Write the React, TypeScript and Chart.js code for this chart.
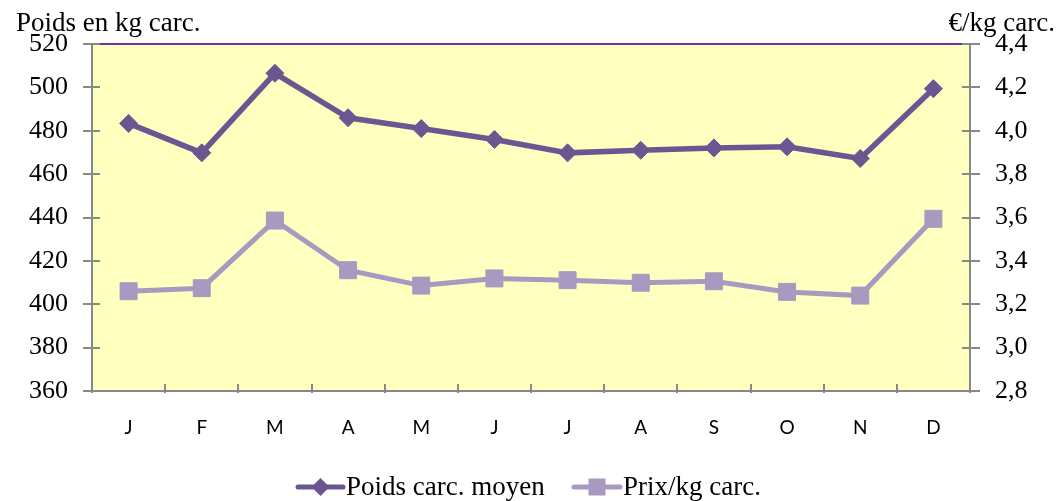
import React, { useEffect, useRef } from "react";
import { Chart, registerables } from "chart.js";

Chart.register(...registerables);

const months = ["J", "F", "M", "A", "M", "J", "J", "A", "S", "O", "N", "D"];
const poids = [483.4, 469.8, 506.5, 486, 481, 476, 469.8, 471, 472.1, 472.6, 467.2, 499.4];
const prix = [3.26, 3.274, 3.586, 3.357, 3.286, 3.319, 3.311, 3.299, 3.306, 3.257, 3.24, 3.594];
const leftTitle = "Poids en kg carc.";
const rightTitle = "€/kg carc.";
const poidsLabel = "Poids carc. moyen";
const prixLabel = "Prix/kg carc.";

const POIDS_COLOR = "#6B5691";
const PRIX_COLOR = "#A899C0";
const AXIS_COLOR = "#888888";
const SERIF = "'Liberation Serif', 'Times New Roman', serif";

const decor = {
  id: "decor",
  beforeDraw(chart: any) {
    const { ctx, chartArea } = chart;
    const { left, top, right, bottom } = chartArea;
    ctx.save();
    ctx.fillStyle = "#FFFFC0";
    ctx.fillRect(left, top, right - left, bottom - top);
    ctx.restore();
  },
  afterDraw(chart: any) {
    const { ctx, chartArea } = chart;
    const { left, top, right, bottom } = chartArea;
    ctx.save();
    ctx.strokeStyle = "#7030A0";
    ctx.lineWidth = 2;
    ctx.beginPath();
    ctx.moveTo(left, top);
    ctx.lineTo(right, top);
    ctx.stroke();
    ctx.strokeStyle = AXIS_COLOR;
    ctx.lineWidth = 2;
    const yl = chart.scales.y;
    yl.ticks.forEach((t: any) => {
      const py = Math.round(yl.getPixelForValue(t.value));
      ctx.beginPath();
      ctx.moveTo(left - 9, py);
      ctx.lineTo(left + 8, py);
      ctx.stroke();
    });
    const yr = chart.scales.y1;
    yr.ticks.forEach((t: any) => {
      const py = Math.round(yr.getPixelForValue(t.value));
      ctx.beginPath();
      ctx.moveTo(right - 8, py);
      ctx.lineTo(right + 10, py);
      ctx.stroke();
    });
    const n = months.length;
    for (let i = 0; i <= n; i++) {
      const px = Math.round(left + ((right - left) * i) / n);
      ctx.beginPath();
      ctx.moveTo(px, bottom - 7);
      ctx.lineTo(px, bottom + 2);
      ctx.stroke();
    }
    ctx.fillStyle = "#000";
    ctx.font = `27px ${SERIF}`;
    ctx.textBaseline = "alphabetic";
    ctx.textAlign = "left";
    ctx.fillText(leftTitle, 16, 31);
    ctx.textAlign = "right";
    ctx.fillText(rightTitle, 1055, 31);
    const ly = 487;
    const drawEntry = (x1: number, x2: number, color: string, style: string, label: string) => {
      ctx.strokeStyle = color;
      ctx.lineWidth = 5;
      ctx.lineCap = "round";
      ctx.beginPath();
      ctx.moveTo(x1, ly);
      ctx.lineTo(x2, ly);
      ctx.stroke();
      const cx = (x1 + x2) / 2;
      ctx.fillStyle = color;
      ctx.beginPath();
      if (style === "diamond") {
        ctx.moveTo(cx, ly - 9);
        ctx.lineTo(cx + 9, ly);
        ctx.lineTo(cx, ly + 9);
        ctx.lineTo(cx - 9, ly);
        ctx.closePath();
      } else {
        ctx.rect(cx - 8.5, ly - 8.5, 17, 17);
      }
      ctx.fill();
      ctx.fillStyle = "#000";
      ctx.textAlign = "left";
      ctx.font = `27px ${SERIF}`;
      ctx.fillText(label, x2 + 3, 495);
    };
    drawEntry(298, 343, POIDS_COLOR, "diamond", poidsLabel);
    drawEntry(574, 620, PRIX_COLOR, "square", prixLabel);
    ctx.restore();
  },
};

export default function App() {
  const ref = useRef<HTMLCanvasElement>(null);
  useEffect(() => {
    if (!ref.current) return;
    const chart = new Chart(ref.current, {
      type: "line",
      data: {
        labels: months,
        datasets: [
          {
            label: poidsLabel,
            data: poids,
            yAxisID: "y",
            borderColor: POIDS_COLOR,
            backgroundColor: POIDS_COLOR,
            borderWidth: 5.5,
            pointStyle: "rectRot",
            pointRadius: 9,
            pointBorderWidth: 1,
            pointBackgroundColor: POIDS_COLOR,
            pointBorderColor: POIDS_COLOR,
            tension: 0,
          },
          {
            label: prixLabel,
            data: prix,
            yAxisID: "y1",
            borderColor: PRIX_COLOR,
            backgroundColor: PRIX_COLOR,
            borderWidth: 5,
            pointStyle: "rect",
            pointRadius: 12,
            pointBorderWidth: 1,
            pointBackgroundColor: PRIX_COLOR,
            pointBorderColor: PRIX_COLOR,
            tension: 0,
          },
        ],
      },
      options: {
        responsive: false,
        animation: false,
        devicePixelRatio: 1,
        layout: { padding: { top: 44, left: 0, right: 0, bottom: 0 } },
        plugins: { legend: { display: false }, tooltip: { enabled: false }, title: { display: false } },
        scales: {
          x: {
            offset: true,
            grid: { display: false, drawTicks: false },
            border: { display: true, color: AXIS_COLOR, width: 2 },
            ticks: {
              color: "#000",
              padding: 25,
              font: { family: "Lato, 'Liberation Sans', sans-serif", size: 19 },
              maxRotation: 0,
              autoSkip: false,
            },
            afterFit: (s: any) => {
              s.height = 110;
            },
          },
          y: {
            position: "left",
            min: 360,
            max: 520,
            grid: { display: false, drawTicks: false },
            border: { display: true, color: AXIS_COLOR, width: 2 },
            ticks: {
              stepSize: 20,
              color: "#000",
              padding: 24,
              font: { family: SERIF, size: 26 },
            },
            afterFit: (s: any) => {
              s.width = 92;
            },
          },
          y1: {
            position: "right",
            min: 2.8,
            max: 4.4,
            grid: { display: false, drawTicks: false },
            border: { display: true, color: AXIS_COLOR, width: 2 },
            ticks: {
              stepSize: 0.2,
              color: "#000",
              padding: 25,
              font: { family: SERIF, size: 26 },
              callback: (v: any) => Number(v).toFixed(1).replace(".", ","),
            },
            afterFit: (s: any) => {
              s.width = 87;
            },
          },
        },
      },
      plugins: [decor],
    });
    return () => chart.destroy();
  }, []);
  return (
    <div style={{ position: "absolute", left: 0, top: 0, width: 1057, height: 501, background: "#fff" }}>
      <canvas ref={ref} width={1057} height={501} style={{ display: "block" }} />
    </div>
  );
}
